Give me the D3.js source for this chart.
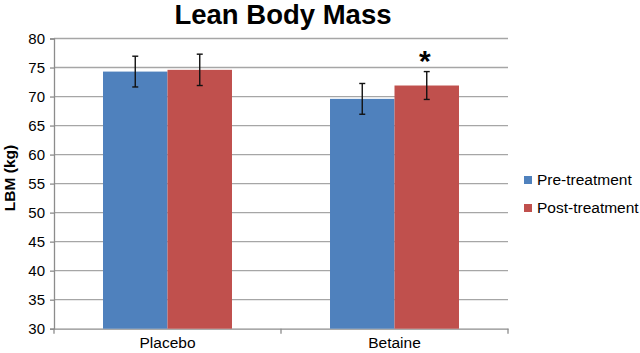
<!DOCTYPE html>
<html>
<head>
<meta charset="utf-8">
<script src="https://cdn.jsdelivr.net/npm/d3@7"></script>
<style>
  body { margin: 0; background: #fff; }
  text { font-family: "Liberation Sans", Arial, sans-serif; }
</style>
</head>
<body>
<svg id="chart" width="640" height="353"></svg>
<script>
var groups = ["Placebo", "Betaine"];
var seriesNames = ["Pre-treatment", "Post-treatment"];
var preValues = [74.3, 69.6];
var postValues = [74.6, 71.9];
var preErr = [2.65, 2.65];
var postErr = [2.7, 2.4];
var yTicks = [30, 35, 40, 45, 50, 55, 60, 65, 70, 75, 80];
var colors = ["#4F81BD", "#C0504D"];

var svg = d3.select("#chart");
// note: "top" is a window global, so use other names
var plotLeft = 54, plotRight = 508, plotTop = 38.5, plotBottom = 328.7;

var x0 = d3.scaleBand().domain(groups).range([plotLeft, plotRight]).padding(0);
var x1 = d3.scaleBand().domain(seriesNames)
  .range([0, x0.bandwidth()]).paddingInner(0).paddingOuter(0.76);
var y = d3.scaleLinear().domain([30, 80]).range([plotBottom, plotTop]);

// gridlines
svg.append("g").selectAll("line")
  .data(yTicks.slice(1))
  .join("line")
  .attr("x1", plotLeft).attr("x2", plotRight)
  .attr("y1", d => y(d)).attr("y2", d => y(d))
  .attr("stroke", "#a6a6a6")
  .attr("stroke-width", 1.3);

// y axis
var yAxis = svg.append("g")
  .attr("transform", "translate(" + plotLeft + ",0)")
  .call(d3.axisLeft(y).tickValues(yTicks).tickSize(4).tickPadding(5));
yAxis.select(".domain").attr("stroke", "#8c8c8c").attr("stroke-width", 1.3);
yAxis.selectAll(".tick line").attr("stroke", "#8c8c8c").attr("stroke-width", 1.3);
yAxis.selectAll(".tick text")
  .attr("font-size", 15)
  .attr("fill", "#000")
  .style("font-family", "Liberation Sans, Arial, sans-serif");

// x axis
var xAxis = svg.append("g")
  .attr("transform", "translate(0," + plotBottom + ")")
  .call(d3.axisBottom(x0).tickSize(0).tickPadding(8));
xAxis.select(".domain").attr("stroke", "#8c8c8c").attr("stroke-width", 1.3);
xAxis.selectAll(".tick text")
  .attr("font-size", 15.5)
  .attr("fill", "#000")
  .style("font-family", "Liberation Sans, Arial, sans-serif");
// category separator ticks
svg.append("g").selectAll("line")
  .data([plotLeft, plotLeft + x0.step(), plotRight])
  .join("line")
  .attr("x1", d => d).attr("x2", d => d)
  .attr("y1", plotBottom).attr("y2", plotBottom + 5)
  .attr("stroke", "#8c8c8c").attr("stroke-width", 1.3);

// bars
var rows = groups.map(function(g, i) {
  return [
    {group: g, name: seriesNames[0], value: preValues[i], err: preErr[i]},
    {group: g, name: seriesNames[1], value: postValues[i], err: postErr[i]}
  ];
});

var gg = svg.append("g").selectAll("g")
  .data(rows)
  .join("g")
  .attr("transform", d => "translate(" + x0(d[0].group) + ",0)");

gg.selectAll("rect")
  .data(d => d)
  .join("rect")
  .attr("x", d => x1(d.name))
  .attr("width", x1.bandwidth())
  .attr("y", d => y(d.value))
  .attr("height", d => y(30) - y(d.value))
  .attr("fill", (d, i) => colors[i]);

// error bars
var eb = gg.selectAll("g.err")
  .data(d => d)
  .join("g")
  .attr("class", "err")
  .attr("transform", d => "translate(" + (x1(d.name) + x1.bandwidth() / 2) + ",0)")
  .attr("stroke", "#111")
  .attr("stroke-width", 1.4);
eb.append("line")
  .attr("y1", d => y(d.value - d.err))
  .attr("y2", d => y(d.value + d.err));
eb.append("line")
  .attr("x1", -3).attr("x2", 3)
  .attr("y1", d => y(d.value + d.err)).attr("y2", d => y(d.value + d.err));
eb.append("line")
  .attr("x1", -3).attr("x2", 3)
  .attr("y1", d => y(d.value - d.err)).attr("y2", d => y(d.value - d.err));

// significance star over betaine post-treatment
svg.append("text")
  .attr("x", x0("Betaine") + x1("Post-treatment") + x1.bandwidth() / 2 - 2)
  .attr("y", y(postValues[1] + postErr[1]) - 1)
  .attr("text-anchor", "middle")
  .attr("font-size", 30)
  .attr("font-weight", "bold")
  .text("*");

// title
svg.append("text")
  .attr("x", (plotLeft + plotRight) / 2 + 2)
  .attr("y", 24)
  .attr("text-anchor", "middle")
  .attr("font-size", 27.5)
  .attr("font-weight", "bold")
  .text("Lean Body Mass");

// y label
svg.append("text")
  .attr("transform", "translate(15,178) rotate(-90)")
  .attr("text-anchor", "middle")
  .attr("font-size", 15.5)
  .attr("font-weight", "bold")
  .text("LBM (kg)");

// legend
var lg = svg.append("g").selectAll("g")
  .data(seriesNames)
  .join("g")
  .attr("transform", (d, i) => "translate(524," + (176 + i * 28) + ")");
lg.append("rect")
  .attr("width", 8).attr("height", 8)
  .attr("fill", (d, i) => colors[i]);
lg.append("text")
  .attr("x", 13).attr("y", 8.5)
  .attr("font-size", 15.5)
  .text(d => d);
</script>
</body>
</html>
